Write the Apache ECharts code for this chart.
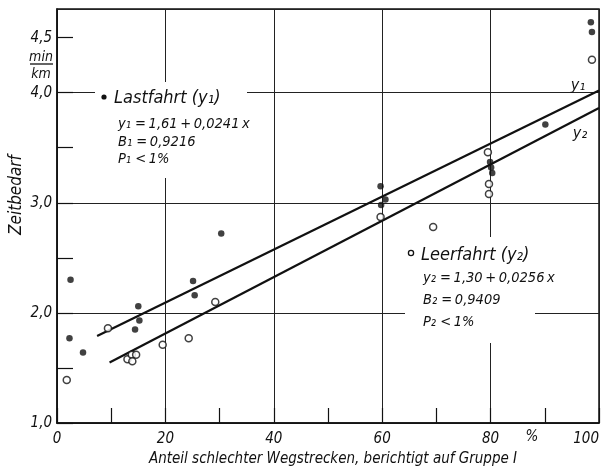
<!DOCTYPE html>
<html><head><meta charset="utf-8">
<script src="https://cdn.jsdelivr.net/npm/echarts@6/dist/echarts.min.js"></script>
<style>html,body{margin:0;padding:0;background:#fff}#c{width:602px;height:473px}</style>
</head><body><div id="c"></div>
<script>
// Data
const lastfahrt = [[2.5,2.30],[2.3,1.77],[4.8,1.64],[14.4,1.85],[15.0,2.06],[15.2,1.93],[25.1,2.29],[25.4,2.16],[30.3,2.72],[59.7,3.15],[60.6,3.03],[59.8,2.98],[79.9,3.37],[80.1,3.32],[80.3,3.27],[90.1,3.71],[98.5,4.64],[98.7,4.55]];
const leerfahrt = [[1.8,1.39],[9.4,1.86],[13.0,1.58],[13.8,1.62],[14.6,1.62],[13.9,1.56],[19.5,1.71],[24.3,1.77],[29.2,2.10],[59.7,2.87],[69.4,2.78],[79.5,3.46],[79.7,3.17],[79.7,3.08],[98.7,4.30]];
const lineY1 = [[7.4,1.79],[100,4.02]];
const lineY2 = [[9.7,1.55],[100,3.86]];
const xTickLabels = [0,20,40,60,80,100];
const yTickLabels = [1.0,2.0,3.0,4.0,4.5];

const FONT = '"DejaVu Sans Condensed","DejaVu Sans",sans-serif';
const INK = '#111';
const chart = echarts.init(document.getElementById('c'), null, {renderer:'canvas'});
const fmtComma = v => v.toFixed(1).replace('.', ',');
const TS = '\u2009';

function txt(text, x, y, size, extra) {
  return Object.assign({type:'text', z:60, style:Object.assign({text:text, x:x, y:y, fill:INK,
    font:'italic ' + size + 'px ' + FONT, textVerticalAlign:'middle'}, extra||{})});
}

chart.setOption({
  backgroundColor:'#fff',
  animation:false,
  grid:{left:57, right:1, top:9, bottom:50, show:true, borderColor:INK, borderWidth:1.5},
  xAxis:[{
    type:'value', min:0, max:100, interval:10,
    axisLine:{onZero:false, lineStyle:{color:INK, width:1.5}},
    axisTick:{inside:true, length:15, lineStyle:{color:INK, width:1.2}},
    axisLabel:{color:INK, fontFamily:FONT, fontStyle:'italic', fontSize:15, margin:9, alignMaxLabel:'right',
      formatter:v => xTickLabels.includes(v) ? String(v) : ''},
    splitLine:{show:false}
  },{
    type:'value', min:0, max:100, interval:20, position:'bottom',
    axisLine:{show:false}, axisTick:{show:false}, axisLabel:{show:false},
    splitLine:{show:true, lineStyle:{color:'#222', width:1}}
  }],
  yAxis:[{
    type:'value', min:1, max:4.76, interval:0.5,
    axisLine:{onZero:false, lineStyle:{color:INK, width:1.5}},
    axisTick:{inside:true, length:16, lineStyle:{color:INK, width:1.2}},
    axisLabel:{color:INK, fontFamily:FONT, fontStyle:'italic', fontSize:15, margin:5, showMaxLabel:false,
      formatter:v => yTickLabels.some(t => Math.abs(t - v) < 1e-6) ? fmtComma(v) : ''},
    splitLine:{show:false}
  },{
    type:'value', min:1, max:4.76, interval:1, position:'left',
    axisLine:{show:false}, axisTick:{show:false}, axisLabel:{show:false},
    splitLine:{show:true, lineStyle:{color:'#222', width:1}}
  }],
  series:[
    {type:'line', data:lineY1, xAxisIndex:0, yAxisIndex:0, symbol:'none', lineStyle:{color:INK, width:2.2}, z:3},
    {type:'line', data:lineY2, xAxisIndex:0, yAxisIndex:0, symbol:'none', lineStyle:{color:INK, width:2.2}, z:3},
    {type:'scatter', name:'Lastfahrt', data:lastfahrt, xAxisIndex:0, yAxisIndex:0, symbol:'circle', symbolSize:6.5,
      itemStyle:{color:INK}, z:5},
    {type:'scatter', name:'Leerfahrt', data:leerfahrt, xAxisIndex:0, yAxisIndex:0, symbol:'circle', symbolSize:7,
      itemStyle:{color:'#fff', borderColor:INK, borderWidth:1.5}, z:5}
  ],
  graphic:[
    {type:'rect', z:50, shape:{x:95, y:82, width:152, height:96}, style:{fill:'#fff'}},
    {type:'rect', z:50, shape:{x:405, y:237, width:130, height:106}, style:{fill:'#fff'}},
    {type:'circle', z:60, shape:{cx:104, cy:97, r:2.6}, style:{fill:INK}},
    txt('Lastfahrt (y\u2081)', 114, 98, 18),
    txt('y\u2081 =' + TS + '1,61' + TS + '+' + TS + '0,0241' + TS + 'x', 118, 124, 14.5),
    txt('B\u2081 =' + TS + '0,9216', 118, 142, 14.5),
    txt('P\u2081 <' + TS + '1%', 118, 159, 14.5),
    {type:'circle', z:60, shape:{cx:411, cy:253, r:2.6}, style:{fill:'#fff', stroke:INK, lineWidth:1.3}},
    txt('Leerfahrt (y\u2082)', 421, 255, 18),
    txt('y\u2082 =' + TS + '1,30' + TS + '+' + TS + '0,0256' + TS + 'x', 423, 278, 14.5),
    txt('B\u2082 =' + TS + '0,9409', 423, 300, 14.5),
    txt('P\u2082 <' + TS + '1%', 423, 322, 14.5),
    txt('y\u2081', 578, 86, 16, {textAlign:'center'}),
    txt('y\u2082', 580, 134, 16, {textAlign:'center'}),
    txt('%', 532, 437, 15, {textAlign:'center'}),
    txt('min', 41, 57, 14, {textAlign:'center'}),
    {type:'line', z:60, shape:{x1:30, y1:64, x2:53, y2:64}, style:{stroke:INK, lineWidth:1.3}},
    txt('km', 41, 74, 14, {textAlign:'center'}),
    txt('Anteil schlechter Wegstrecken, berichtigt auf Gruppe I', 333, 459, 15, {textAlign:'center'}),
    {type:'text', z:60, x:17, y:195, rotation:Math.PI/2,
      style:{text:'Zeitbedarf', x:0, y:0, fill:INK, font:'italic 17px ' + FONT, textAlign:'center', textVerticalAlign:'middle'}}
  ]
});
</script></body></html>
